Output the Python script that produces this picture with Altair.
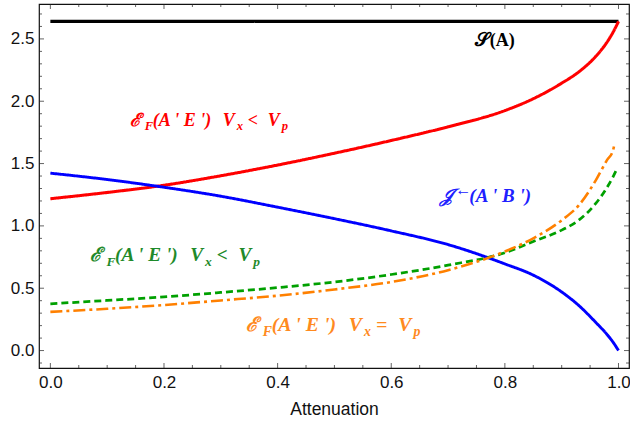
import altair as alt
import pandas as pd

# ---------------- data ----------------
X_GRID = [0.0, 0.1, 0.2, 0.3, 0.4, 0.5, 0.6, 0.7, 0.8, 0.85, 0.9, 0.93, 0.96, 0.98, 0.99]

S_A_X = [0.0, 1.0]
S_A_Y = [2.64, 2.64]

RED_X = X_GRID + [1.0]
RED_Y = [1.218, 1.268, 1.326, 1.402, 1.488, 1.583, 1.685, 1.795, 1.925, 2.02,
         2.145, 2.235, 2.36, 2.475, 2.55, 2.64]

BLUE_X = X_GRID + [1.0]
BLUE_Y = [1.423, 1.372, 1.31, 1.238, 1.15, 1.058, 0.96, 0.85, 0.695, 0.605,
          0.47, 0.362, 0.226, 0.128, 0.07, 0.0]

GREEN_X = X_GRID + [0.997]
GREEN_Y = [0.375, 0.402, 0.43, 0.466, 0.505, 0.55, 0.61, 0.685, 0.785, 0.875,
           0.966, 1.046, 1.18, 1.31, 1.39, 1.455]

ORANGE_X = X_GRID + [0.993]
ORANGE_Y = [0.31, 0.335, 0.365, 0.402, 0.44, 0.49, 0.55, 0.645, 0.795, 0.9,
            1.045, 1.165, 1.365, 1.53, 1.6, 1.66]

X_TICKS = [0.0, 0.2, 0.4, 0.6, 0.8, 1.0]
X_MINOR = [0.05, 0.1, 0.15, 0.25, 0.3, 0.35, 0.45, 0.5, 0.55, 0.65, 0.7, 0.75,
           0.85, 0.9, 0.95]
Y_TICKS = [0.0, 0.5, 1.0, 1.5, 2.0, 2.5]
Y_MINOR = [-0.1, 0.1, 0.2, 0.3, 0.4, 0.6, 0.7, 0.8, 0.9, 1.1, 1.2, 1.3, 1.4,
           1.6, 1.7, 1.8, 1.9, 2.1, 2.2, 2.3, 2.4, 2.6, 2.7]

SERIES = ["S", "red", "blue", "green", "orange"]
COLORS = ["#000000", "#FF0000", "#0000FF", "#00A000", "#FF8000"]
DASHES = [[1, 0], [1, 0], [1, 0], [7, 4], [12, 4, 3, 4]]
WIDTHS = [3.2, 2.6, 2.6, 2.6, 2.6]

# ---------------- layout ----------------
XMIN, XMAX = -0.02, 1.0185
YMIN, YMAX = -0.14, 2.78
W, H = 590, 364
PXU = W / (XMAX - XMIN)
PYU = H / (YMAX - YMIN)

rows = []
for name, xs_, ys_ in [("S", S_A_X, S_A_Y), ("red", RED_X, RED_Y),
                       ("blue", BLUE_X, BLUE_Y), ("green", GREEN_X, GREEN_Y),
                       ("orange", ORANGE_X, ORANGE_Y)]:
    for i, (a, b) in enumerate(zip(xs_, ys_)):
        rows.append({"series": name, "x": a, "y": b, "order": i})
df = pd.DataFrame(rows)

xs = alt.Scale(domain=[XMIN, XMAX], nice=False, zero=False)
ys = alt.Scale(domain=[YMIN, YMAX], nice=False, zero=False)

lines = alt.Chart(df).mark_line(interpolate="monotone", clip=True).encode(
    x=alt.X("x:Q", scale=xs,
            axis=alt.Axis(values=X_TICKS, format=".1f", ticks=False, domain=False,
                          grid=False, labelFont="Liberation Sans", labelFontSize=17,
                          labelColor="#111", labelPadding=6, title="Attenuation",
                          titleFont="Liberation Sans", titleFontSize=17.5,
                          titleFontWeight="normal", titleColor="#111", titlePadding=10)),
    y=alt.Y("y:Q", scale=ys,
            axis=alt.Axis(values=Y_TICKS, format=".1f", ticks=False, domain=False,
                          grid=False, labelFont="Liberation Sans", labelFontSize=17,
                          labelColor="#111", labelPadding=5, title=None)),
    color=alt.Color("series:N", scale=alt.Scale(domain=SERIES, range=COLORS), legend=None),
    strokeDash=alt.StrokeDash("series:N", scale=alt.Scale(domain=SERIES, range=DASHES), legend=None),
    strokeWidth=alt.StrokeWidth("series:N", scale=alt.Scale(domain=SERIES, range=WIDTHS), legend=None),
    order="order:Q",
)

# ---------------- inward frame ticks ----------------
def tick_layer(values, pos, vertical, size):
    d = pd.DataFrame({"v": values})
    if vertical:
        enc = dict(x=alt.X("v:Q", scale=xs), y=alt.YDatum(pos))
    else:
        enc = dict(y=alt.Y("v:Q", scale=ys), x=alt.XDatum(pos))
    return alt.Chart(d).mark_tick(
        orient="vertical" if vertical else "horizontal", size=size, thickness=1,
        color="#222", clip=True).encode(**enc)

ticks = [
    tick_layer(X_TICKS, YMIN, True, 10), tick_layer(X_MINOR, YMIN, True, 6),
    tick_layer(X_TICKS, YMAX, True, 10), tick_layer(X_MINOR, YMAX, True, 6),
    tick_layer(Y_TICKS, XMIN, False, 10), tick_layer(Y_MINOR, XMIN, False, 6),
    tick_layer(Y_TICKS, XMAX, False, 10), tick_layer(Y_MINOR, XMAX, False, 6),
]

# ---------------- text labels (pieces) ----------------
# (text, dx_em, dy_em, rel_size)
def ef_pieces(rel):
    return [("ℰ", 0.0, 0.0, 1.0), ("F", 0.83, 0.22, 0.7), ("(A ' E ')", 1.28, 0.0, 1.0),
            ("V", 5.17, 0.0, 1.0), ("x", 5.94, 0.22, 0.7), (rel, 6.55, 0.0, 1.0),
            ("V", 7.67, 0.0, 1.0), ("p", 8.44, 0.22, 0.7)]

LABELS = [
    # anchor x, anchor y (data), font size, color, pieces
    (0.1397, 1.80, 18, "#FF0000", ef_pieces("<")),
    (0.0704, 0.715, 19.3, "#1E8A2A", ef_pieces("<")),
    (0.345, 0.155, 19.8, "#FF8A1E", ef_pieces("=")),
    (0.6856, 1.189, 19, "#2020FF", [("𝒥", 0.0, 0.0, 1.0), ("←", 0.8, -0.38, 0.85),
                                    ("(A ' B ')", 1.55, 0.0, 1.0)]),
]
trows = []
for ax, ay, fs, col, pieces in LABELS:
    for t, dxe, dye, rs in pieces:
        trows.append({"t": t, "x": ax + dxe * fs / PXU, "y": ay - dye * fs / PYU,
                      "s": fs * rs, "c": col})
tdf = pd.DataFrame(trows)
texts = alt.Chart(tdf).mark_text(align="left", baseline="alphabetic", font="Liberation Serif",
                                 fontStyle="italic", fontWeight="bold").encode(
    x=alt.X("x:Q", scale=xs), y=alt.Y("y:Q", scale=ys), text="t:N",
    size=alt.Size("s:Q", scale=None), color=alt.Color("c:N", scale=None))

sdf = pd.DataFrame([
    {"t": "𝒮", "x": 0.747, "y": 2.44, "s": 19},
    {"t": "(A)", "x": 0.747 + 15 / PXU, "y": 2.44, "s": 18},
])
stext = alt.Chart(sdf).mark_text(align="left", baseline="alphabetic", font="Liberation Serif",
                                 fontWeight="bold", color="#000").encode(
    x=alt.X("x:Q", scale=xs), y=alt.Y("y:Q", scale=ys), text="t:N",
    size=alt.Size("s:Q", scale=None))

chart = alt.layer(lines, *ticks, texts, stext).properties(
    width=W, height=H,
    autosize=alt.AutoSizeParams(type="none"),
    padding={"left": 39, "top": 4, "right": 1, "bottom": 61},
    background="white",
).configure_view(stroke="#111", strokeWidth=1.2)

chart.save("out.html", embed_options={"renderer": "svg", "actions": False})
